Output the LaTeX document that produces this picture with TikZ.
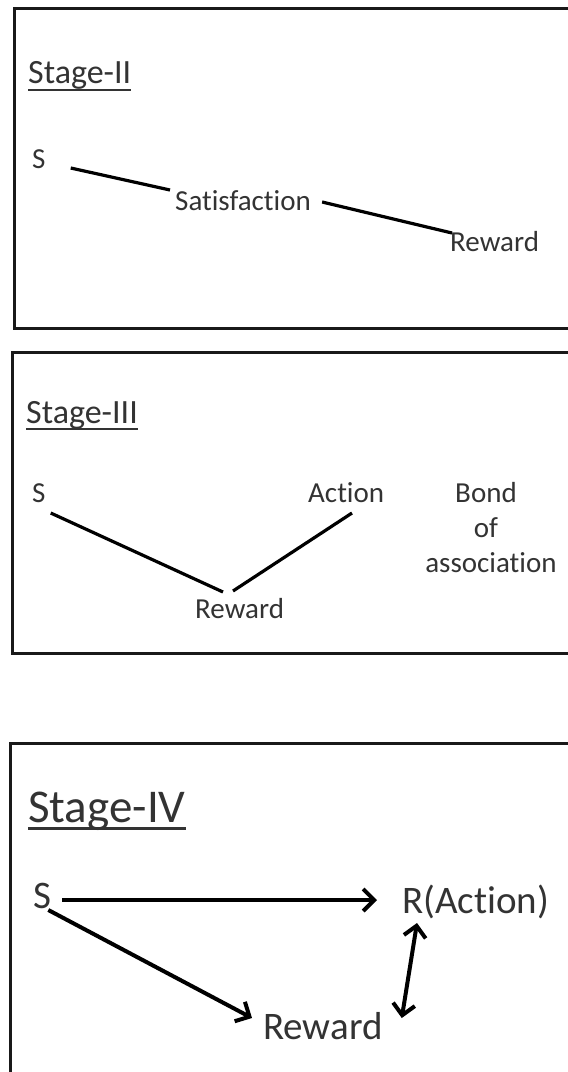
\documentclass[tikz,border=0pt]{standalone}
\usepackage{fontspec}
\setmainfont{Carlito}[Ligatures=NoCommon]
\usetikzlibrary{calc,arrows.meta}
\definecolor{ink}{HTML}{333333}
\tikzset{
  panel/.style={draw=black!90, line width=3pt},
  lbl/.style={inner sep=0pt, anchor=base west, text=ink, font=\fontsize{29}{35}\selectfont},
  biglbl/.style={inner sep=0pt, anchor=base west, text=ink, font=\fontsize{39}{47}\selectfont},
  head/.style={inner sep=0pt, anchor=base west, text=ink, font=\fontsize{34}{41}\selectfont},
  bighead/.style={inner sep=0pt, anchor=base west, text=ink, font=\fontsize{47}{56}\selectfont},
  uline/.style={draw=ink, line width=2.4pt},
  link/.style={draw=black, line width=3.2pt},
  tip/.tip={Straight Barb[length=11pt,width=22pt,line width=4pt]},
  arr/.style={draw=black, line width=4pt, -tip},
  darr/.style={draw=black, line width=4pt, tip-tip}
}
\begin{document}
\begin{tikzpicture}[x=1pt,y=-1pt]
\useasboundingbox (0,0) rectangle (568,1072);
\fill[white] (0,0) rectangle (568,1072);
\begin{scope}
\clip (0,0) rectangle (568,1072);
% three panels, open past the right edge
\draw[panel] (14,8) rectangle (640,328);
\draw[panel] (12,352) rectangle (640,653);
\draw[panel] (10,743) rectangle (640,1120);

% ---- Stage II ----
\node[head] (h2) at (28,83) {Stage-II};
\draw[uline] ($(h2.base west)+(0,7)$) -- ($(h2.base east)+(0,7)$);
\node[lbl] (s2) at (32,168) {S};
\node[lbl] (sat) at (175,210) {Satisfaction};
\node[lbl] (rew2) at (450,251) {Reward};
\draw[link] ($(s2.base east)+(25,0)$) -- ($(sat.base west)+(-5,-20)$);
\draw[link] ($(sat.base east)+(11,-8)$) -- ($(rew2.base west)+(2,-18)$);

% ---- Stage III ----
\node[head] (h3) at (26,423) {Stage-III};
\draw[uline] ($(h3.base west)+(0,6)$) -- ($(h3.base east)+(0,6)$);
\node[lbl] (s3) at (32,502) {S};
\node[lbl] (act) at (308,502) {Action};
\node[lbl] (rew3) at (195,618) {Reward};
\node[lbl, anchor=base] (bond) at (486,502) {Bond};
\node[lbl, anchor=base] (bondof) at (486,537) {of};
\node[lbl, anchor=base] (bondas) at (491,572) {association};
\draw[link] ($(s3.base east)+(5,11)$) -- ($(rew3.base west)+(28,-26)$);
\draw[link] ($(rew3.base west)+(38,-27)$) -- ($(act.base west)+(44,11)$);

% ---- Stage IV ----
\node[bighead] (h4) at (28,822) {Stage-IV};
\draw[uline, line width=3pt] ($(h4.base west)+(0,6)$) -- ($(h4.base east)+(0,6)$);
\node[biglbl] (s4) at (33,908) {S};
\node[biglbl] (rac) at (402,913) {R(Action)};
\node[biglbl] (rew4) at (263,1039) {Reward};
\draw[arr] ($(s4.base east)+(11,-8)$) -- ($(rac.base west)+(-25,-13)$);
\draw[arr] ($(s4.base east)+(-3,2)$) -- ($(rew4.base west)+(-11,-21)$);
\draw[darr] ($(rac.base west)+(15,10)$) -- ($(rew4.base east)+(19,-21)$);
\end{scope}
\end{tikzpicture}
\end{document}
